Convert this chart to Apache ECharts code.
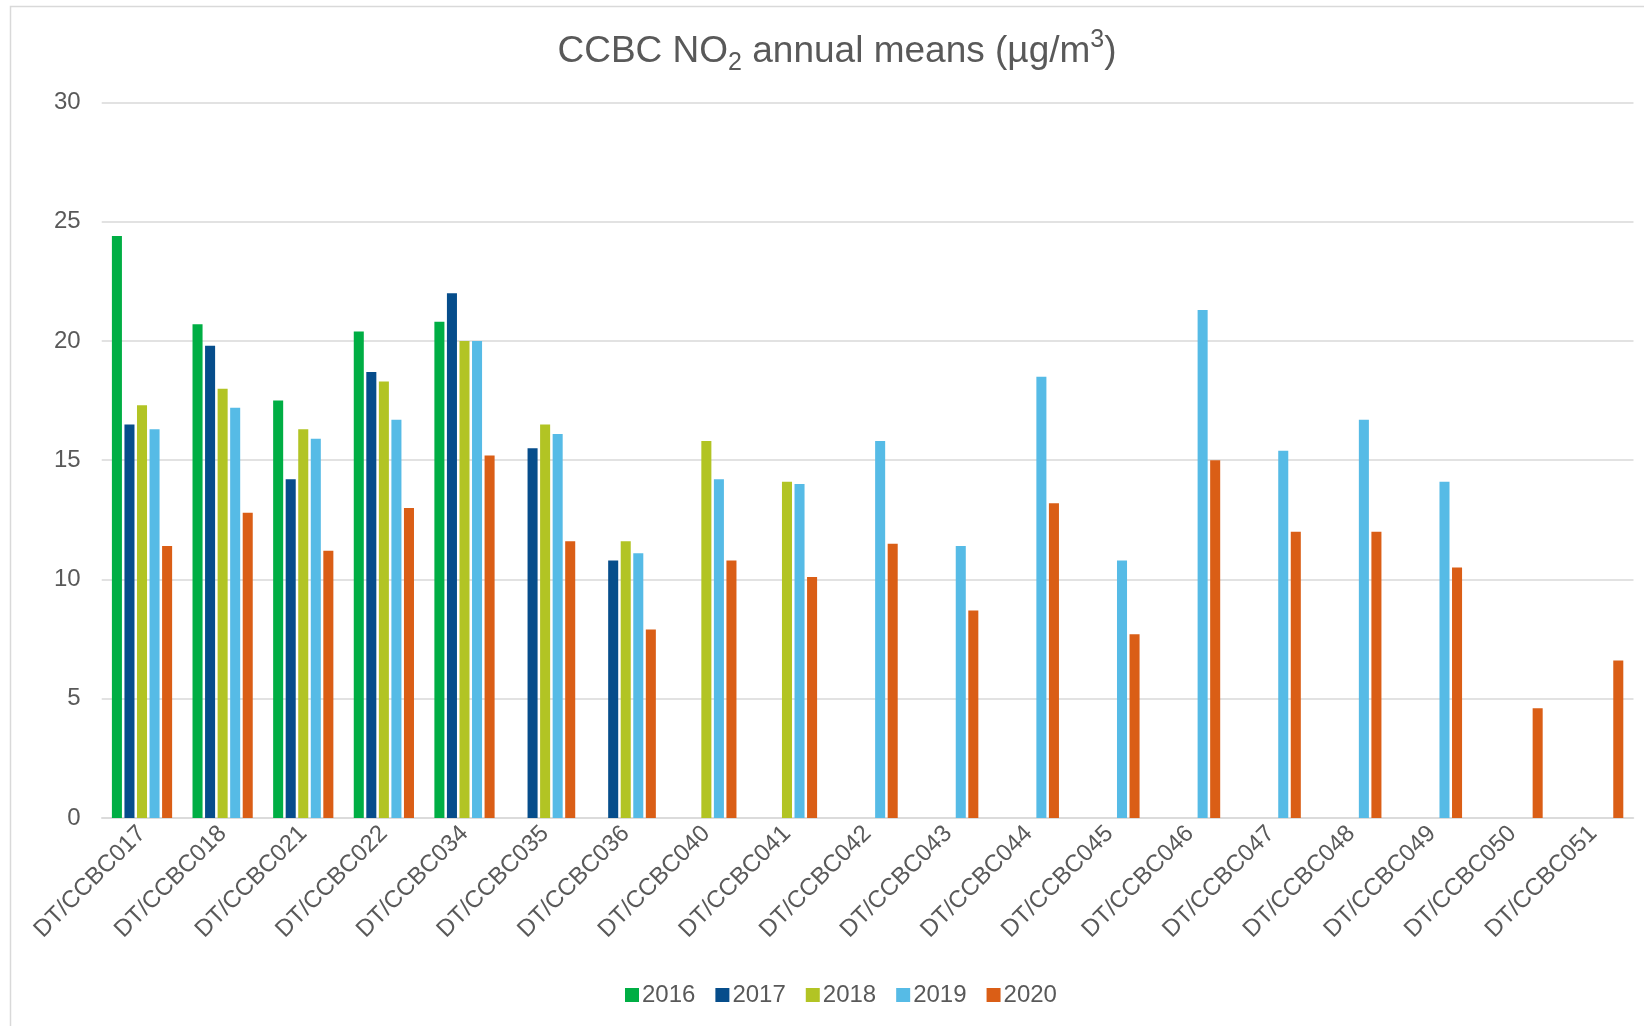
<!DOCTYPE html>
<html>
<head>
<meta charset="utf-8">
<script src="https://cdn.jsdelivr.net/npm/echarts@6/dist/echarts.min.js"></script>
<style>
html,body{margin:0;padding:0;background:#fff;}
#chart{width:1644px;height:1026px;}
</style>
</head>
<body>
<div id="chart"></div>
<script>
const categories = ['DT/CCBC017','DT/CCBC018','DT/CCBC021','DT/CCBC022','DT/CCBC034','DT/CCBC035','DT/CCBC036','DT/CCBC040','DT/CCBC041','DT/CCBC042','DT/CCBC043','DT/CCBC044','DT/CCBC045','DT/CCBC046','DT/CCBC047','DT/CCBC048','DT/CCBC049','DT/CCBC050','DT/CCBC051'];
const seriesNames = ['2016','2017','2018','2019','2020'];
const v2016 = [24.4, 20.7, 17.5, 20.4, 20.8, null, null, null, null, null, null, null, null, null, null, null, null, null, null];
const v2017 = [16.5, 19.8, 14.2, 18.7, 22.0, 15.5, 10.8, null, null, null, null, null, null, null, null, null, null, null, null];
const v2018 = [17.3, 18.0, 16.3, 18.3, 20.0, 16.5, 11.6, 15.8, 14.1, null, null, null, null, null, null, null, null, null, null];
const v2019 = [16.3, 17.2, 15.9, 16.7, 20.0, 16.1, 11.1, 14.2, 14.0, 15.8, 11.4, 18.5, 10.8, 21.3, 15.4, 16.7, 14.1, null, null];
const v2020 = [11.4, 12.8, 11.2, 13.0, 15.2, 11.6, 7.9, 10.8, 10.1, 11.5, 8.7, 13.2, 7.7, 15.0, 12.0, 12.0, 10.5, 4.6, 6.6];
const yTicks = [0, 5, 10, 15, 20, 25, 30];

const colors = ['#00AE44', '#064D8B', '#B2C424', '#56BBE6', '#DA5E16'];
const allValues = [v2016, v2017, v2018, v2019, v2020];
const FONT = '"Liberation Sans", Arial, sans-serif';
const TXT = '#595959';

const chart = echarts.init(document.getElementById('chart'), null, {renderer: 'canvas'});
const option = {
  backgroundColor: '#ffffff',
  animation: false,
  textStyle: {fontFamily: FONT},
  graphic: [
    {type: 'rect', silent: true, z: -10,
      shape: {x: 10.5, y: 6.5, width: 1700, height: 1100},
      style: {fill: 'none', stroke: '#d9d9d9', lineWidth: 1.5}},
    {type: 'text', silent: true, x: 837, y: 52,
      style: {
        text: '{a|CCBC NO}{sub|2}{a| annual means (µg/m}{sup|3}{a|)}',
        align: 'center', verticalAlign: 'middle',
        fill: TXT, font: '37px ' + FONT,
        rich: {
          a: {fontSize: 37, lineHeight: 48, color: TXT, fontFamily: FONT},
          sub: {fontSize: 25, lineHeight: 24, verticalAlign: 'bottom', color: TXT, fontFamily: FONT},
          sup: {fontSize: 25, lineHeight: 34, verticalAlign: 'top', color: TXT, fontFamily: FONT}
        }
      }}
  ],
  legend: {
    data: seriesNames,
    left: 620, top: 978,
    itemWidth: 14, itemHeight: 14, itemGap: 20,
    icon: 'rect',
    textStyle: {fontSize: 24, color: TXT, fontFamily: FONT, padding: [0, 0, 0, -2]}
  },
  grid: {left: 101.7, right: 10.5, top: 102.4, bottom: 208, containLabel: false},
  xAxis: {
    type: 'category',
    data: categories,
    axisTick: {show: false},
    axisLine: {lineStyle: {color: '#d9d9d9', width: 1.5}},
    axisLabel: {interval: 0, rotate: 45, fontSize: 24, color: TXT, fontFamily: FONT, margin: 12}
  },
  yAxis: {
    type: 'value',
    min: yTicks[0], max: yTicks[yTicks.length - 1], interval: 5,
    axisLine: {show: false},
    axisTick: {show: false},
    axisLabel: {fontSize: 24, color: TXT, fontFamily: FONT, margin: 21},
    splitLine: {lineStyle: {color: '#d9d9d9', width: 1.5}}
  },
  series: seriesNames.map((name, i) => ({
    name: name,
    type: 'bar',
    data: allValues[i],
    barGap: '25%',
    barCategoryGap: '25.3%',
    itemStyle: {color: colors[i]}
  }))
};
chart.setOption(option);
</script>
</body>
</html>
